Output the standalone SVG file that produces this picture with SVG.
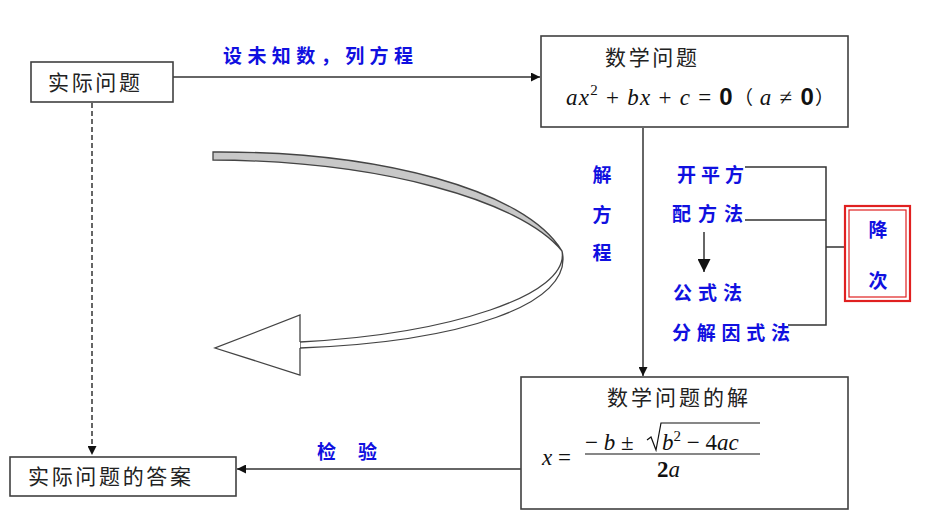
<svg xmlns="http://www.w3.org/2000/svg" width="944" height="523" viewBox="0 0 944 523">
<defs>
<style>
.box{fill:#fff;stroke:#404040;stroke-width:1.6}
.t{font-family:"Noto Sans CJK SC","Noto Sans",sans-serif;font-size:21px;fill:#222}
.b{font-family:"Noto Sans CJK SC",sans-serif;font-size:19px;font-weight:bold;fill:#1010e0}
.m{font-family:"Liberation Serif",serif;font-size:23px;fill:#111}
.ln{fill:none;stroke:#333;stroke-width:1.5}
</style>
<marker id="ah" viewBox="0 0 10 10" refX="10" refY="5" markerWidth="9" markerHeight="9" markerUnits="userSpaceOnUse" orient="auto"><path d="M0,0 L10,5 L0,10 Z" fill="#111"/></marker>
<marker id="ah2" viewBox="0 0 10 10" refX="10" refY="5" markerWidth="13" markerHeight="13" markerUnits="userSpaceOnUse" orient="auto"><path d="M0,0 L10,5 L0,10 Z" fill="#111"/></marker>
</defs>
<rect width="944" height="523" fill="#fff"/>
<g id="connectors">
<path class="ln" d="M173,77 L540,77" marker-end="url(#ah)"/>
<path class="ln" d="M643,128 L643,376" marker-end="url(#ah)"/>
<path class="ln" d="M521,469 L237,469" marker-end="url(#ah)"/>
<path class="ln" d="M92,103 L92,455" stroke-dasharray="5,3" stroke-width="2.2" stroke="#555" marker-end="url(#ah)"/>
<path class="ln" d="M704,232 L704,272" marker-end="url(#ah2)"/>
<path class="ln" d="M745,167 L826,167 L826,325 L788,325 M745,220 L826,220 M826,247 L846,247"/>
</g>
<g id="curve-arrow" stroke="#444" stroke-width="1.3">
<path d="M213,152 C380,151 525,190 562,251 C520,200 380,161 213,160 Z" fill="#c8c8c8"/>
<path d="M562,251 C570,295 450,334 300,342 L300,348 C460,342 575,305 562,251 Z" fill="#fff"/>
<path d="M300,342 L300,315 L215,348 L300,375 L300,348" fill="#fff"/>
</g>
<g id="n-shiji">
<rect class="box" x="31" y="62" width="142" height="40"/>
<text class="t" x="48" y="90" textLength="92">实际问题</text>
</g>
<g id="n-shuxue">
<rect class="box" x="541" y="36" width="307" height="91"/>
<text class="t" x="605" y="65" textLength="92">数学问题</text>
<text class="m" x="566" y="105" textLength="268" lengthAdjust="spacing"><tspan font-style="italic">ax</tspan><tspan font-size="15" dy="-10">2</tspan><tspan dy="10"> + </tspan><tspan font-style="italic">bx</tspan><tspan> + </tspan><tspan font-style="italic">c</tspan><tspan> = </tspan><tspan font-family="Liberation Sans,sans-serif" font-size="24" font-weight="bold">0</tspan><tspan font-family="Noto Sans CJK SC,sans-serif" font-size="19">（ </tspan><tspan font-style="italic">a</tspan><tspan> ≠ </tspan><tspan font-family="Liberation Sans,sans-serif" font-size="24" font-weight="bold">0</tspan><tspan font-family="Noto Sans CJK SC,sans-serif" font-size="19">）</tspan></text>
</g>
<g id="n-jie">
<rect class="box" x="521" y="377" width="327" height="132"/>
<text class="t" x="607" y="405" textLength="141">数学问题的解</text>
<text class="m" x="542" y="465"><tspan font-style="italic">x</tspan> =</text>
<text class="m" x="585" y="450">− <tspan font-style="italic">b</tspan> ±</text>
<path d="M647,440 L651,437 L656,450 L661,423 L760,423" fill="none" stroke="#111" stroke-width="1.2"/>
<text class="m" x="662" y="450"><tspan font-style="italic">b</tspan><tspan font-size="15" dy="-9">2</tspan><tspan dy="9"> − 4</tspan><tspan font-style="italic">ac</tspan></text>
<line x1="585" y1="454" x2="760" y2="454" stroke="#111" stroke-width="1.2"/>
<text class="m" x="657" y="477" font-weight="bold">2<tspan font-style="italic" font-weight="normal">a</tspan></text>
</g>
<g id="n-daan">
<rect class="box" x="10" y="457" width="226" height="39"/>
<text class="t" x="28" y="484" textLength="163">实际问题的答案</text>
</g>
<g id="n-jiangci">
<rect x="845" y="206" width="65" height="95" fill="#fff" stroke="#e02020" stroke-width="2.2"/>
<rect x="849" y="210" width="57" height="87" fill="none" stroke="#e02020" stroke-width="1.2"/>
<text class="b" x="878" y="237" text-anchor="middle" font-weight="normal" font-size="20">降</text>
<text class="b" x="878" y="288" text-anchor="middle" font-weight="normal" font-size="20">次</text>
</g>
<g id="labels">
<text class="b" x="223" y="63" textLength="190">设未知数，列方程</text>
<text class="b" x="602" y="182" text-anchor="middle">解</text>
<text class="b" x="602" y="222" text-anchor="middle">方</text>
<text class="b" x="602" y="260" text-anchor="middle">程</text>
<text class="b" x="677" y="182" textLength="67">开平方</text>
<text class="b" x="672" y="221" textLength="71">配方法</text>
<text class="b" x="673" y="300" textLength="69">公式法</text>
<text class="b" x="672" y="340" textLength="118">分解因式法</text>
<text class="b" x="317" y="459" textLength="60">检 验</text>
</g>
</svg>
